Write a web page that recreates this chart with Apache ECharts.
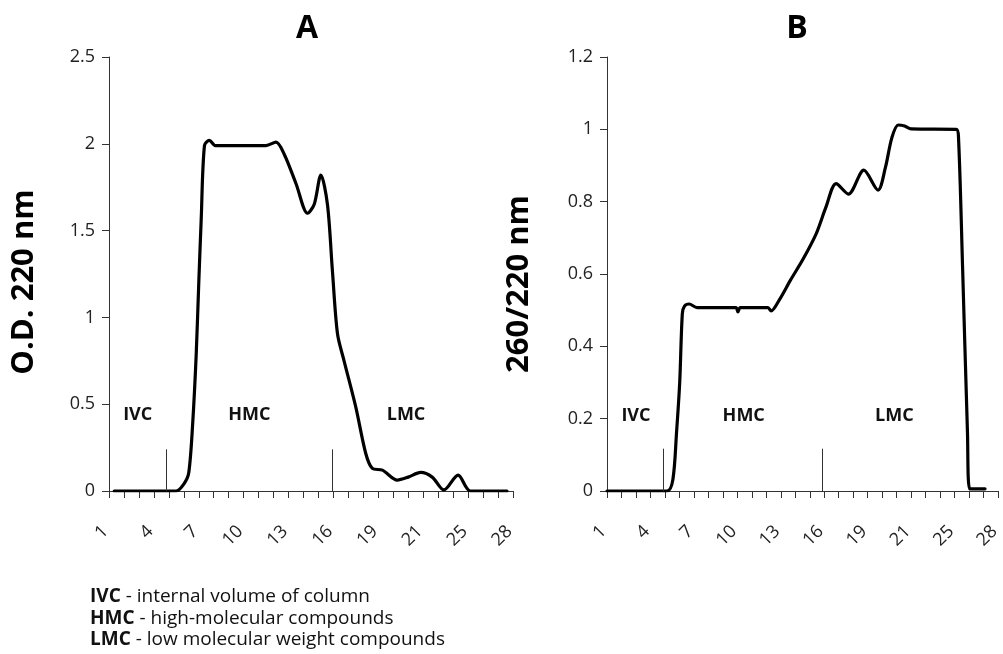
<!DOCTYPE html>
<html>
<head>
<meta charset="utf-8">
<script src="https://cdn.jsdelivr.net/npm/echarts@6/dist/echarts.min.js"></script>
<style>
    html, body { margin: 0; padding: 0; background: #fff; }
    #chart { width: 1003px; height: 654px; }
</style>
</head>
<body>
<div id="chart"></div>
<script>
// tick labels along the fraction axis (the 22nd fraction is labelled "21" in the source)
var tickLabels = { 1: '1', 4: '4', 7: '7', 10: '10', 13: '13', 16: '16', 19: '19', 22: '21', 25: '25', 28: '28' };

// A: O.D. 220 nm, [fraction, value]
var curveA = [
    [1.35, 0], [5.49, 0], [6.0, 0.04], [6.33, 0.105], [6.6, 0.4], [6.83, 0.79], [7.0, 1.2], [7.16, 1.56],
    [7.38, 1.99], [7.71, 2.02], [8.1, 1.99], [8.5, 1.99], [11.49, 1.99], [12.16, 2.01], [12.71, 1.94],
    [13.5, 1.77], [14.27, 1.6], [14.71, 1.65], [15.16, 1.82], [15.6, 1.65], [15.93, 1.27], [16.27, 0.906],
    [16.71, 0.75], [17.49, 0.485], [18.16, 0.216], [18.6, 0.13], [19.27, 0.12], [20.27, 0.063],
    [21.0, 0.08], [21.83, 0.107], [22.6, 0.08], [23.38, 0.006], [24.33, 0.092], [25.16, 0], [27.6, 0]
];

// B: 260/220 nm ratio, [fraction, value]
var curveB = [
    [1.0, 0], [5.15, 0], [5.55, 0.032], [5.8, 0.161], [6.02, 0.3], [6.2, 0.49], [6.35, 0.511],
    [6.67, 0.517], [7.22, 0.507], [9.9, 0.507], [10.04, 0.495], [10.2, 0.507], [12.11, 0.507],
    [12.33, 0.498], [12.89, 0.528], [13.67, 0.583], [14.55, 0.642], [15.44, 0.711], [16.11, 0.784],
    [16.82, 0.85], [17.67, 0.821], [18.73, 0.887], [19.71, 0.832], [20.22, 0.894], [20.67, 0.977],
    [21.11, 1.012], [21.55, 1.009], [22.0, 1.001], [25.11, 1.0], [25.27, 0.977], [25.55, 0.62],
    [25.89, 0.16], [26.04, 0.006], [27.1, 0.006]
];

// boundary markers [fraction, height]
var markersA = [[4.83, 0.24], [15.89, 0.24]];
var markersB = [[4.87, 0.117], [15.89, 0.117]];

// region labels [fraction, value, text]
var regionsA = [[2.92, 0.438, 'IVC'], [10.38, 0.438, 'HMC'], [20.85, 0.438, 'LMC']];
var regionsB = [[3.0, 0.207, 'IVC'], [10.44, 0.207, 'HMC'], [20.84, 0.207, 'LMC']];

var font = '"Open Sans", "Noto Sans", sans-serif';

function xAxisDef(idx) {
    return {
        type: 'value', gridIndex: idx, min: 1, max: 28, interval: 1,
        axisLine: { lineStyle: { color: '#333', width: 1 } },
        axisTick: { length: 7, lineStyle: { color: '#333' } },
        splitLine: { show: false },
        axisLabel: {
            rotate: 45, margin: 34, fontSize: 18, color: '#222', fontFamily: font,
            interval: 0, padding: [0, 5, 0, 0],
            formatter: function(v) { return tickLabels[v] || ''; }
        }
    };
}

function yAxisDef(idx, max, interval) {
    return {
        type: 'value', gridIndex: idx, min: 0, max: max, interval: interval,
        axisLine: { show: true, lineStyle: { color: '#333', width: 1 } },
        axisTick: { show: true, length: 7, lineStyle: { color: '#333' } },
        splitLine: { show: false },
        axisLabel: {
            margin: 14, fontSize: 18, color: '#222', fontFamily: font,
            formatter: function(v) { return String(Math.round(v * 10) / 10); }
        }
    };
}

function markerLines(list) {
    return list.map(function(m) {
        return [{ coord: [m[0], 0] }, { coord: [m[0], m[1]] }];
    });
}

function regionPoints(list) {
    return list.map(function(r) {
        return { coord: [r[0], r[1]], name: r[2] };
    });
}

function curveSeries(idx, data, markers, regions) {
    return {
        type: 'line', xAxisIndex: idx, yAxisIndex: idx,
        data: data, smooth: 0.3, showSymbol: false,
        lineStyle: { color: '#000', width: 3.2, join: 'round', cap: 'round' },
        z: 3,
        markLine: {
            silent: true, symbol: 'none', animation: false,
            lineStyle: { color: '#333', width: 1, type: 'solid' },
            label: { show: false },
            data: markerLines(markers)
        },
        markPoint: {
            silent: true, symbol: 'circle', symbolSize: 1, animation: false,
            itemStyle: { color: 'rgba(0,0,0,0)' },
            label: {
                show: true, position: 'inside', formatter: '{b}',
                fontSize: 18, fontWeight: 'bold', color: '#111', fontFamily: font
            },
            data: regionPoints(regions)
        }
    };
}

var chart = echarts.init(document.getElementById('chart'));
var option = {
    animation: false,
    backgroundColor: '#fff',
    grid: [
        { left: 109, top: 57, width: 404, height: 434 },
        { left: 607, top: 57, width: 405, height: 434 }
    ],
    xAxis: [xAxisDef(0), xAxisDef(1)],
    yAxis: [yAxisDef(0, 2.5, 0.5), yAxisDef(1, 1.2, 0.2)],
    series: [
        curveSeries(0, curveA, markersA, regionsA),
        curveSeries(1, curveB, markersB, regionsB)
    ],
    graphic: [
        { type: 'text', x: 307, y: 29, style: { text: 'A', font: 'bold 32px ' + font, fill: '#000', align: 'center', verticalAlign: 'middle' } },
        { type: 'text', x: 797, y: 29, style: { text: 'B', font: 'bold 32px ' + font, fill: '#000', align: 'center', verticalAlign: 'middle' } },
        { type: 'text', x: 24, y: 282, rotation: Math.PI / 2, style: { text: 'O.D. 220 nm', font: 'bold 31px ' + font, fill: '#000', align: 'center', verticalAlign: 'middle' } },
        { type: 'text', x: 519, y: 284, rotation: Math.PI / 2, style: { text: '260/220 nm', font: 'bold 31px ' + font, fill: '#000', align: 'center', verticalAlign: 'middle' } },
        {
            type: 'text', left: 90, top: 586,
            style: {
                text: '{b|IVC} - internal volume of column\n{b|HMC} - high-molecular compounds\n{b|LMC} - low molecular weight compounds',
                font: '19px ' + font, fill: '#111', lineHeight: 21.5,
                rich: { b: { fontWeight: 'bold', fontSize: 19, fontFamily: font, fill: '#111', lineHeight: 21.5 } }
            }
        }
    ]
};
chart.setOption(option);
</script>
</body>
</html>
